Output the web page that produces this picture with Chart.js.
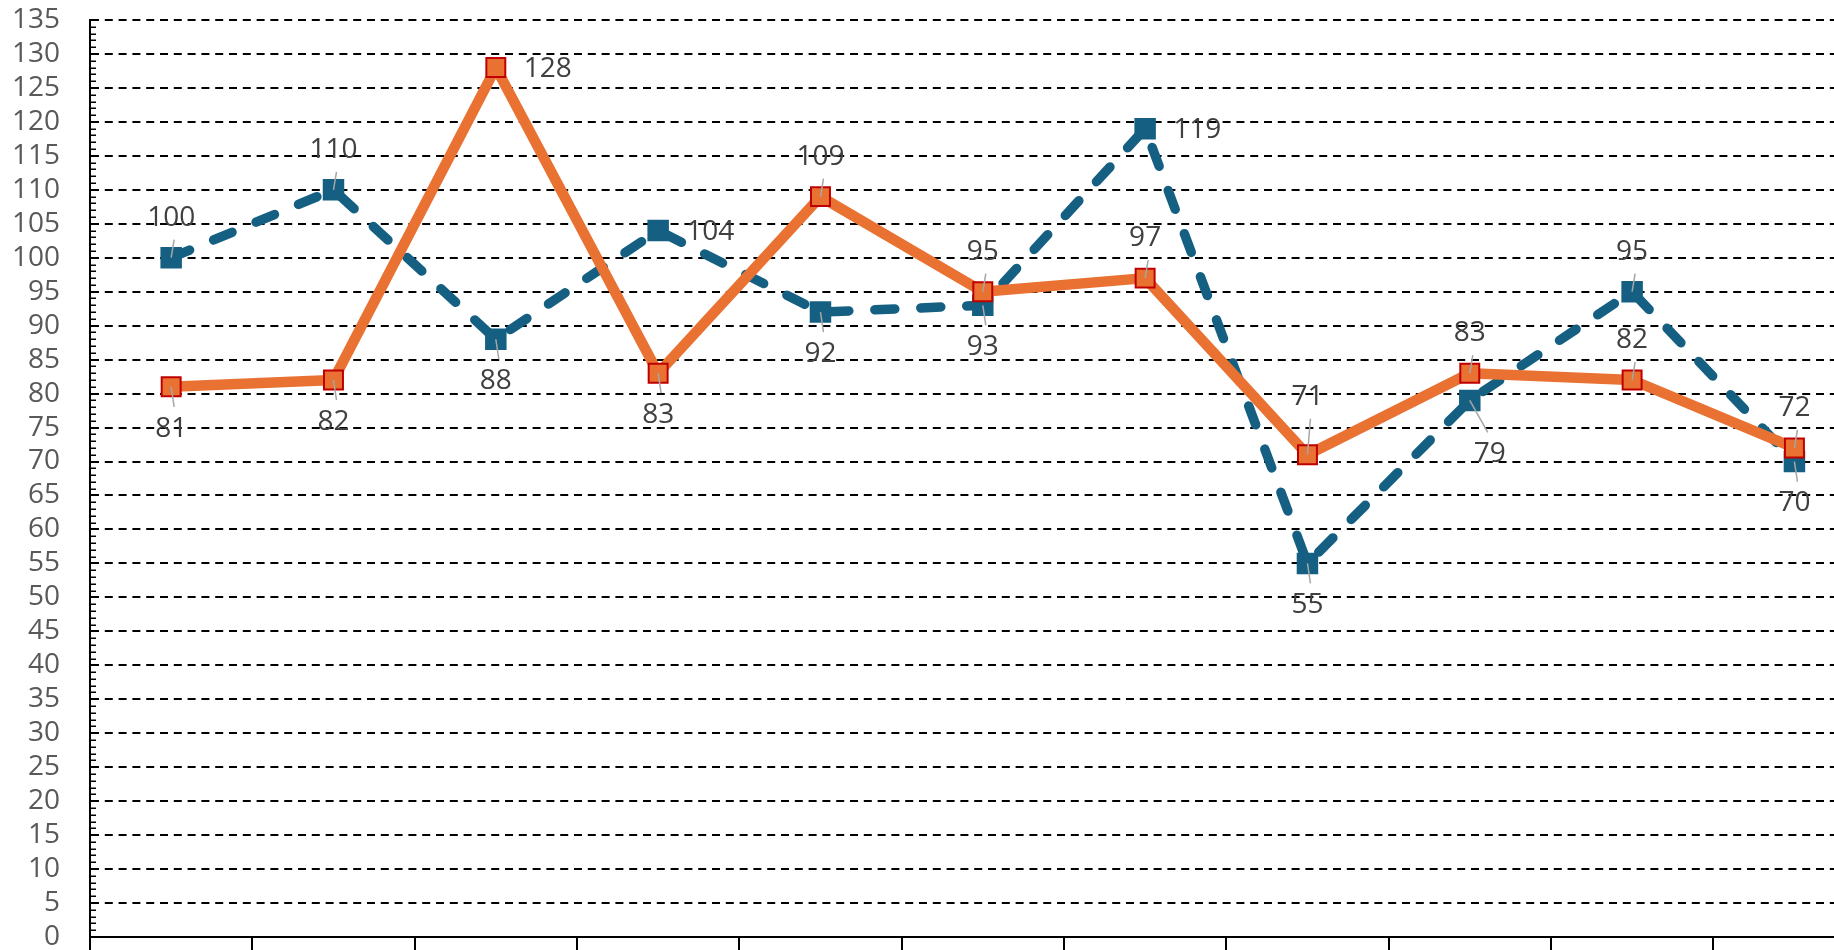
<!DOCTYPE html>
<html>
<head>
<meta charset="utf-8">
<script src="https://cdn.jsdelivr.net/npm/chart.js@4/dist/chart.umd.min.js"></script>
<style>
  html, body { margin: 0; padding: 0; background: #ffffff; overflow: hidden; width: 1834px; height: 950px; }
  #wrap { position: absolute; left: 0; top: 0; width: 1891px; height: 990px; }
</style>
</head>
<body>
<div id="wrap"><canvas id="c" width="1891" height="990"></canvas></div>
<script>
// ---- data ----
const categories = ['1', '2', '3', '4', '5', '6', '7', '8', '9', '10', '11'];
const blueValues = [100, 110, 88, 104, 92, 93, 119, 55, 79, 95, 70];
const orangeValues = [81, 82, 128, 83, 109, 95, 97, 71, 83, 82, 72];
const yTickLabels = [0, 5, 10, 15, 20, 25, 30, 35, 40, 45, 50, 55, 60, 65, 70, 75, 80, 85, 90, 95, 100, 105, 110, 115, 120, 125, 130, 135];
// label placement keywords: t = above, tt = far above, b = below, br = below right, r = right
const blueLabelPlacement = ['t', 't', 'b', 'r', 'b', 'b', 'r', 'b', 'br', 't', 'b'];
const orangeLabelPlacement = ['b', 'b', 'r', 'b', 't', 't', 't', 'tt', 't', 't', 't'];

const BLUE = '#156082';
const ORANGE = '#E97132';
const MARKER_EDGE = '#C00000';
const FONT = "'Open Sans', 'Liberation Sans', sans-serif";

const minorTicks = {
  id: 'minorTicks',
  beforeDatasetsDraw(chart) {
    const y = chart.scales.y;
    const ctx = chart.ctx;
    const left = chart.chartArea.left;
    ctx.save();
    ctx.strokeStyle = '#000';
    ctx.lineWidth = 1.5;
    for (let v = y.min; v <= y.max; v += 1) {
      if (v % 5 === 0) continue;
      const py = Math.round(y.getPixelForValue(v)) + 0.25;
      ctx.beginPath();
      ctx.moveTo(left, py);
      ctx.lineTo(left + 6, py);
      ctx.stroke();
    }
    ctx.restore();
  }
};

const pointLabels = {
  id: 'pointLabels',
  afterDatasetsDraw(chart) {
    const ctx = chart.ctx;
    const groups = [
      { idx: 1, vals: blueValues, pos: blueLabelPlacement },
      { idx: 0, vals: orangeValues, pos: orangeLabelPlacement }
    ];
    ctx.save();
    ctx.font = '28px ' + FONT;
    ctx.textBaseline = 'middle';
    groups.forEach(g => {
      const meta = chart.getDatasetMeta(g.idx);
      meta.data.forEach((el, i) => {
        const px = el.x, py = el.y;
        const p = g.pos[i];
        let lx = px, ly = py, align = 'center', leader = true;
        if (p === 't') { ly = py - 40; }
        else if (p === 'tt') { ly = py - 58; }
        else if (p === 'b') { ly = py + 42; }
        else if (p === 'br') { lx = px + 20; ly = py + 54; }
        else if (p === 'r') { lx = px + 28; ly = py + 1; align = 'left'; leader = false; }
        if (leader) {
          const endY = ly + (ly < py ? 22 : -22);
          const endX = lx + (p === 'br' ? -2 : 3);
          ctx.strokeStyle = '#A6A6A6';
          ctx.lineWidth = 1.5;
          ctx.beginPath();
          ctx.moveTo(px, py);
          ctx.lineTo(endX, endY);
          ctx.stroke();
        }
        ctx.fillStyle = '#404040';
        ctx.textAlign = align;
        ctx.fillText(String(g.vals[i]), lx, ly);
      });
    });
    ctx.restore();
  }
};

new Chart(document.getElementById('c'), {
  type: 'line',
  data: {
    labels: categories,
    datasets: [
      {
        label: 'Series 2',
        data: orangeValues,
        borderColor: ORANGE,
        borderWidth: 10.5,
        borderJoinStyle: 'round',
        borderCapStyle: 'round',
        tension: 0,
        pointStyle: 'rect',
        pointRadius: 13.4,
        pointBackgroundColor: ORANGE,
        pointBorderColor: MARKER_EDGE,
        pointBorderWidth: 2,
        order: 1
      },
      {
        label: 'Series 1',
        data: blueValues,
        borderColor: BLUE,
        borderWidth: 9.5,
        borderDash: [20, 26],
        borderCapStyle: 'round',
        borderJoinStyle: 'round',
        tension: 0,
        pointStyle: 'rect',
        pointRadius: 15.2,
        pointBackgroundColor: BLUE,
        pointBorderColor: BLUE,
        pointBorderWidth: 0,
        order: 2
      }
    ]
  },
  options: {
    responsive: false,
    animation: false,
    events: [],
    layout: { padding: { top: 20, right: 0, left: 0, bottom: 33 } },
    plugins: { legend: { display: false }, tooltip: { enabled: false } },
    scales: {
      x: {
        offset: true,
        grid: {
          offset: true,
          drawOnChartArea: false,
          drawTicks: true,
          tickLength: 20,
          tickColor: '#000',
          tickWidth: 2,
          lineWidth: 2,
          color: '#000'
        },
        border: { display: true, color: '#000', width: 2 },
        ticks: { display: false }
      },
      y: {
        min: 0,
        max: 135,
        afterBuildTicks: s => { s.ticks = yTickLabels.map(v => ({ value: v })); },
        afterFit: s => { s.width = 90; },
        grid: { color: '#000', lineWidth: 2, drawTicks: true, tickLength: 30, tickWidth: 0 },
        border: { display: true, color: '#000', width: 2, dash: [8, 5.8] },
        ticks: {
          autoSkip: false,
          padding: 0,
          color: '#595959',
          font: { family: FONT, size: 28 }
        }
      }
    }
  },
  plugins: [minorTicks, pointLabels]
});
</script>
</body>
</html>
